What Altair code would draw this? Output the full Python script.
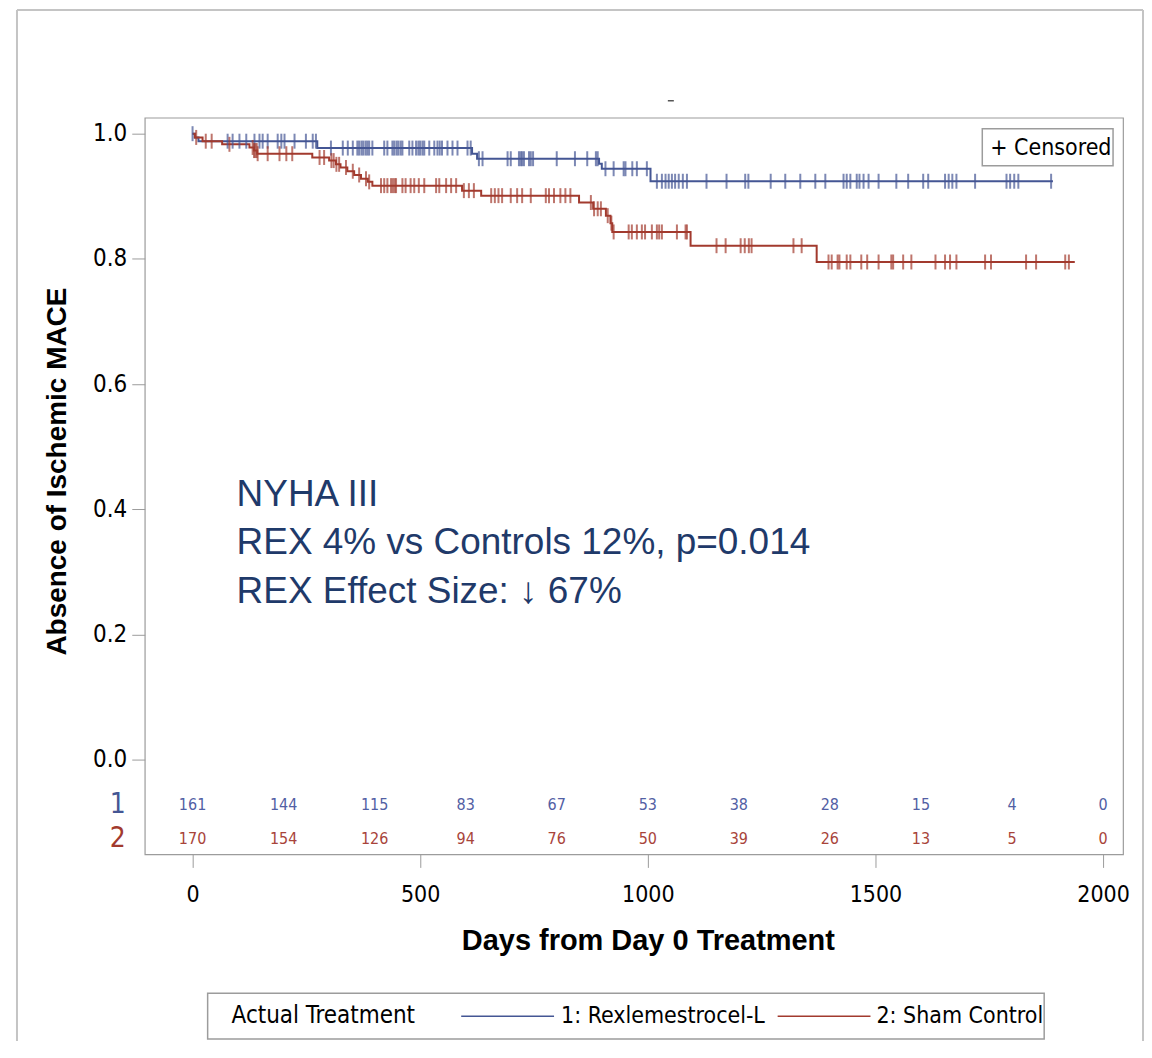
import altair as alt
import pandas as pd

# ---------------- data ----------------
GROUPS = ["1: Rexlemestrocel-L", "2: Sham Control"]
COLORS = ["#445694", "#A23A2E"]

# Kaplan-Meier steps (day, survival level after the step)
rex_days = [0, 5, 13, 274, 614, 625, 893, 899, 1006, 1890]
rex_surv = [1.0, 0.994, 0.988, 0.977, 0.968, 0.960, 0.952, 0.944, 0.924, 0.924]

sham_days = [0, 5, 22, 65, 125, 135, 142, 263, 300, 315, 325, 340, 355, 370, 385,
             395, 592, 634, 849, 880, 908, 918, 922, 1094, 1371, 1938]
sham_surv = [1.0, 0.994, 0.988, 0.983, 0.978, 0.973, 0.968, 0.962, 0.957, 0.951,
             0.946, 0.940, 0.934, 0.928, 0.923, 0.917, 0.909, 0.901, 0.890, 0.880,
             0.869, 0.857, 0.843, 0.821, 0.795, 0.795]

# censoring times
rex_censor_days = [0, 77, 88, 103, 118, 136, 147, 154, 165, 187, 195, 202, 224, 249,
                   264, 271, 304, 330, 341, 352, 362, 366, 371, 375, 380, 384, 388,
                   395, 421, 428, 439, 443, 448, 452, 457, 461, 476, 483, 491, 496,
                   500, 505, 509, 520, 531, 538, 543, 548, 560, 571, 582, 604, 611,
                   629, 637, 692, 699, 717, 721, 724, 728, 739, 743, 748, 800, 840,
                   867, 886, 890, 907, 925, 947, 951, 966, 976, 998, 1020, 1031,
                   1039, 1046, 1053, 1060, 1068, 1077, 1086, 1129, 1173, 1214, 1221,
                   1270, 1302, 1335, 1368, 1390, 1430, 1437, 1445, 1459, 1465, 1474,
                   1485, 1507, 1546, 1572, 1605, 1616, 1653, 1661, 1669, 1678, 1719,
                   1788, 1796, 1805, 1814, 1886]
sham_censor_days = [8, 29, 42, 81, 132, 135, 138, 141, 143, 165, 191, 206, 219, 279,
                    289, 305, 310, 316, 322, 337, 352, 366, 381, 388, 414, 421, 428,
                    436, 440, 444, 447, 461, 468, 479, 487, 497, 509, 535, 542, 557,
                    568, 579, 596, 607, 618, 656, 664, 672, 680, 699, 713, 724, 743,
                    776, 783, 794, 808, 819, 830, 875, 882, 890, 897, 912, 920, 925,
                    958, 965, 976, 987, 994, 1009, 1020, 1025, 1031, 1064, 1083, 1086,
                    1151, 1171, 1204, 1213, 1222, 1228, 1320, 1338, 1397, 1404, 1417,
                    1421, 1437, 1445, 1469, 1482, 1507, 1535, 1539, 1561, 1579, 1632,
                    1653, 1664, 1678, 1741, 1754, 1831, 1853, 1917, 1925]

# number at risk table
risk_days = [0, 200, 400, 600, 800, 1000, 1200, 1400, 1600, 1800, 2000]
rex_at_risk = [161, 144, 115, 83, 67, 53, 38, 28, 15, 4, 0]
sham_at_risk = [170, 154, 126, 94, 76, 50, 39, 26, 13, 5, 0]

annotation_lines = ["NYHA III", "REX 4% vs Controls 12%, p=0.014", "REX Effect Size: \u2193 67%"]

# ---------------- tables ----------------
def level(days, surv, t):
    s = surv[0]
    for d, v in zip(days, surv):
        if d <= t:
            s = v
    return s

curve_rows = []
for g, days, surv in [(GROUPS[0], rex_days, rex_surv), (GROUPS[1], sham_days, sham_surv)]:
    for d, s in zip(days, surv):
        curve_rows.append({"group": g, "day": d, "surv": s})
curve = pd.DataFrame(curve_rows)

cens_rows = []
for g, cd, days, surv in [(GROUPS[0], rex_censor_days, rex_days, rex_surv),
                          (GROUPS[1], sham_censor_days, sham_days, sham_surv)]:
    for t in cd:
        cens_rows.append({"group": g, "day": t, "surv": level(days, surv, t)})
cens = pd.DataFrame(cens_rows)

risk_rex = pd.DataFrame({"day": risk_days, "n": rex_at_risk})
risk_sham = pd.DataFrame({"day": risk_days, "n": sham_at_risk})
one = pd.DataFrame({"k": [0]})

# ---------------- layout ----------------
W, H = 980, 738
NARROW = "DejaVu Sans Condensed, Liberation Sans, sans-serif"
SANS = "Liberation Sans, Arial, sans-serif"
FRAME = "#9c9c9c"

xs = alt.Scale(domain=[-105, 2044], nice=False, zero=False)
ys = alt.Scale(domain=[-0.1515, 1.0255], nice=False, zero=False)
cs = alt.Scale(domain=GROUPS, range=COLORS)

x_enc = alt.X("day:Q", scale=xs, axis=alt.Axis(
    values=[0, 500, 1000, 1500, 2000], format="d", title="Days from Day 0 Treatment",
    grid=False, domain=False, tickSize=13, tickColor=FRAME, labelFont=NARROW,
    labelFontSize=23, labelColor="black", labelPadding=16, labelFlush=False,
    titleFont=SANS, titleFontSize=29, titleFontWeight="bold", titleColor="black",
    titleX=504, titleY=86, titleAlign="center", titleBaseline="middle"))
y_enc = alt.Y("surv:Q", scale=ys, axis=alt.Axis(
    values=[0, 0.2, 0.4, 0.6, 0.8, 1.0], format=".1f", title="Absence of Ischemic MACE",
    grid=False, domain=False, tickSize=13, tickColor=FRAME, labelFont=NARROW,
    labelFontSize=24, labelColor="black", labelPadding=5,
    titleFont=SANS, titleFontSize=28, titleFontWeight="bold", titleColor="black",
    titleX=-87, titleY=354, titleAngle=270, titleBaseline="middle", titleAlign="center"))

lines = alt.Chart(curve).mark_line(interpolate="step-after", strokeWidth=2).encode(
    x=x_enc, y=y_enc, color=alt.Color("group:N", scale=cs, legend=None), detail="group:N")

ticks = alt.Chart(cens).mark_tick(orient="vertical", size=15, thickness=2).encode(
    x=alt.X("day:Q", scale=xs), y=alt.Y("surv:Q", scale=ys),
    color=alt.Color("group:N", scale=cs, legend=None))

risk1 = alt.Chart(risk_rex).mark_text(font=NARROW, fontSize=16, baseline="middle", align="center",
                                      color="#5260a4").encode(
    x=alt.X("day:Q", scale=xs), y=alt.value(689), text="n:Q")
risk2 = alt.Chart(risk_sham).mark_text(font=NARROW, fontSize=16, baseline="middle", align="center",
                                       color="#a8443a").encode(
    x=alt.X("day:Q", scale=xs), y=alt.value(723), text="n:Q")

row1 = alt.Chart(one).mark_text(font=NARROW, fontSize=28, baseline="middle", align="center",
                                color="#445694").encode(
    x=alt.value(-27), y=alt.value(689), text=alt.value("1"))
row2 = alt.Chart(one).mark_text(font=NARROW, fontSize=28, baseline="middle", align="center",
                                color="#A23A2E").encode(
    x=alt.value(-27), y=alt.value(723), text=alt.value("2"))

note = alt.Chart(one).mark_text(font=SANS, fontSize=37, align="left", baseline="alphabetic",
                                lineHeight=48.5, color="#1f3a6a").encode(
    x=alt.value(92), y=alt.value(389), text=alt.value(annotation_lines))

# censored legend box
cbox = alt.Chart(one).mark_rect(fill="white", stroke="#9c9c9c", strokeWidth=1.5).encode(
    x=alt.value(839), x2=alt.value(970), y=alt.value(11), y2=alt.value(48))
ctext = alt.Chart(one).mark_text(font=NARROW, fontSize=23, align="left", baseline="middle",
                                 color="black").encode(
    x=alt.value(847), y=alt.value(30), text=alt.value("+ Censored"))

# treatment legend (bottom)
lbox = alt.Chart(one).mark_rect(fill="white", stroke="#9c9c9c", strokeWidth=1.5).encode(
    x=alt.value(63), x2=alt.value(901), y=alt.value(877), y2=alt.value(923))
ltitle = alt.Chart(one).mark_text(font=NARROW, fontSize=24, align="left", baseline="middle",
                                  color="black").encode(
    x=alt.value(87), y=alt.value(900), text=alt.value("Actual Treatment"))
lrule1 = alt.Chart(one).mark_rule(color=COLORS[0], strokeWidth=1.5).encode(
    x=alt.value(317), x2=alt.value(410), y=alt.value(900))
llab1 = alt.Chart(one).mark_text(font=NARROW, fontSize=23, align="left", baseline="middle",
                                 color="black").encode(
    x=alt.value(417), y=alt.value(900), text=alt.value(GROUPS[0]))
lrule2 = alt.Chart(one).mark_rule(color=COLORS[1], strokeWidth=1.5).encode(
    x=alt.value(634), x2=alt.value(727), y=alt.value(900))
llab2 = alt.Chart(one).mark_text(font=NARROW, fontSize=23, align="left", baseline="middle",
                                 color="black").encode(
    x=alt.value(733), y=alt.value(900), text=alt.value(GROUPS[1]))

# outer border of the figure and small mark at top
bl = alt.Chart(one).mark_rule(color="#c4c4c4", strokeWidth=2).encode(
    x=alt.value(-128), y=alt.value(-108), y2=alt.value(H + 300))
bt = alt.Chart(one).mark_rule(color="#c4c4c4", strokeWidth=2).encode(
    x=alt.value(-128), x2=alt.value(1000), y=alt.value(-108))
br = alt.Chart(one).mark_rule(color="#c4c4c4", strokeWidth=2).encode(
    x=alt.value(1000), y=alt.value(-108), y2=alt.value(H + 300))
dash = alt.Chart(one).mark_rule(color="#555555", strokeWidth=1.5).encode(
    x=alt.value(524), x2=alt.value(530), y=alt.value(-17))

chart = alt.layer(
    bl, bt, br, dash, lines, ticks, risk1, risk2, row1, row2, note,
    cbox, ctext, lbox, ltitle, lrule1, llab1, lrule2, llab2
).properties(
    width=W, height=H,
    padding={"left": 137, "top": 109, "right": 21, "bottom": 186},
    autosize=alt.AutoSizeParams(type="none"),
    background="white",
).configure_view(stroke=FRAME, strokeWidth=1.2)

chart.save("out.html", embed_options={"renderer": "svg", "actions": False})
